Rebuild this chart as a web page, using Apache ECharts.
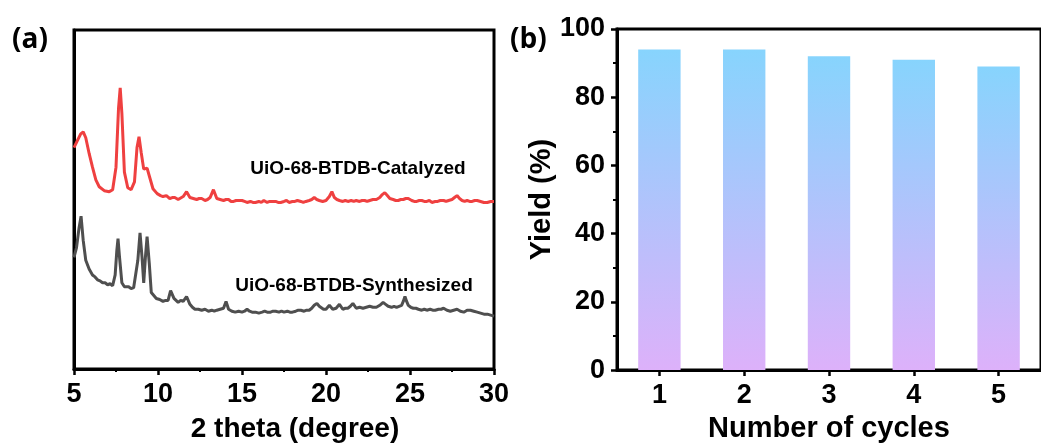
<!DOCTYPE html>
<html>
<head>
<meta charset="utf-8">
<script src="https://cdn.jsdelivr.net/npm/echarts@6/dist/echarts.min.js"></script>
<style>html,body{margin:0;padding:0;background:#fff}#c{width:1041px;height:448px}</style>
</head>
<body>
<div id="c"></div>
<script>
// Panel (a): XRD patterns, [2theta, intensity (a.u.)]
const xrdCatalyzed = [
[5.0,226],[5.2,233],[5.4,240],[5.55,242],[5.7,236],[5.9,220],[6.1,206],[6.3,193],[6.5,186],[6.8,182],[7.1,181],[7.3,183],
[7.5,206],[7.65,266],[7.75,287],[7.85,261],[8.0,201],[8.2,185],[8.4,183],[8.6,191],[8.75,226],[8.87,237],[9.0,221],[9.15,204],
[9.35,205],[9.5,196],[9.7,184],[9.95,179],[10.15,177],[10.3,176],[10.5,177],[10.7,174],[10.85,175],[11.0,175],[11.2,173],[11.5,176],[11.7,181],[11.9,175],
[12.1,174],[12.3,173],[12.45,174],[12.6,174],[12.8,172],[12.95,173],[13.1,175],[13.3,183],[13.5,174],[13.7,173],[13.9,172],[14.05,173],[14.2,173],[14.35,171],[14.5,171],[14.65,172],[14.8,172],
[15.0,172],[15.15,171],[15.3,170],[15.5,171],[15.65,170],[15.8,170],[16.0,171],[16.15,170],[16.3,172],[16.5,170],[16.65,171],[16.8,171],[17.0,171],[17.15,170],[17.3,170],[17.5,171],[17.65,172],[17.8,170],
[18.0,171],[18.15,171],[18.3,172],[18.5,171],[18.65,170],[18.8,171],[19.0,172],[19.15,173],[19.3,175],[19.45,173],[19.6,172],[19.8,171],[20.0,172],[20.2,176],[20.35,181],[20.5,175],
[20.65,173],[20.8,172],[21.0,171],[21.15,172],[21.3,171],[21.5,172],[21.65,171],[21.8,172],[22.0,171],[22.15,172],[22.3,172],[22.45,171],[22.6,172],[22.8,173],[23.0,173],[23.2,175],[23.35,178],[23.5,180],
[23.65,177],[23.8,174],[24.0,173],[24.15,172],[24.3,172],[24.45,173],[24.6,173],[24.75,174],[24.9,174],[25.1,172],[25.25,171],[25.4,171],[25.55,172],[25.7,172],[25.85,171],[26.0,171],[26.15,172],[26.3,170],[26.5,171],[26.65,171],[26.8,172],
[27.0,172],[27.15,171],[27.3,172],[27.5,173],[27.65,175],[27.8,177],[27.95,174],[28.1,172],[28.25,171],[28.4,172],[28.55,171],[28.7,171],[28.85,172],[29.0,172],[29.2,171],[29.4,170],[29.6,170],[29.8,171],[30.0,171]
];
const xrdSynthesized = [
[5.0,114],[5.15,124],[5.3,144],[5.42,156],[5.55,131],[5.7,111],[5.9,102],[6.1,96],[6.25,94],[6.4,91],[6.55,90],[6.7,88],[6.85,88],[7.0,86],[7.15,87],[7.3,85],
[7.45,96],[7.55,121],[7.62,133],[7.7,116],[7.85,88],[8.0,84],[8.1,83],[8.25,84],[8.4,82],[8.55,83],[8.65,84],[8.8,111],[8.93,139],[9.05,114],[9.15,88],
[9.25,114],[9.35,135],[9.48,108],[9.6,78],[9.75,75],[9.9,72],[10.1,71],[10.3,69],[10.45,70],[10.6,70],[10.75,80],[10.83,82],[10.95,72],[11.05,70],[11.2,68],[11.35,70],[11.5,69],
[11.7,74],[11.9,66],[12.05,63],[12.2,61],[12.4,61],[12.6,60],[12.8,61],[13.0,59],[13.2,60],[13.35,59],[13.5,60],[13.7,61],[13.9,62],[14.05,69],[14.2,61],[14.4,59],[14.6,58],[14.8,59],[15.0,58],[15.15,59],[15.3,61],
[15.45,59],[15.6,58],[15.8,58],[16.0,57],[16.2,58],[16.35,59],[16.5,58],[16.7,58],[16.85,59],[17.0,59],[17.2,58],[17.35,59],[17.5,58],[17.7,59],[17.85,58],[18.0,58],[18.2,59],[18.35,60],[18.5,60],[18.7,59],[18.85,60],[19.0,60],[19.15,62],[19.3,65],[19.46,67],[19.6,64],[19.7,62],[19.85,61],[20.0,61],
[20.2,65],[20.4,61],[20.6,62],[20.8,66],[21.0,61],[21.15,62],[21.3,62],[21.45,64],[21.6,67],[21.8,62],[22.0,63],[22.2,62],[22.4,63],[22.6,64],[22.8,63],[23.0,63],[23.2,65],[23.4,68],
[23.55,66],[23.7,64],[23.9,63],[24.05,64],[24.2,63],[24.35,64],[24.5,65],[24.6,69],[24.7,74],[24.8,69],[24.9,65],[25.05,63],[25.2,62],[25.35,62],[25.5,61],[25.7,60],[25.85,61],[26.0,60],[26.2,61],[26.35,60],[26.5,60],[26.7,61],[26.85,61],[27.0,62],[27.2,60],[27.4,59],[27.6,60],[27.8,61],
[28.0,59],[28.2,58],[28.4,60],[28.6,60],[28.8,59],[29.0,58],[29.2,57],[29.4,56],[29.6,56],[29.8,55],[30.0,54]
];
const xTicksA = [5, 10, 15, 20, 25, 30];

// Panel (b): recycling yields
const cycles = ['1', '2', '3', '4', '5'];
const yields = [94, 94, 92, 91, 89];

const FONT = '"Liberation Sans", Arial, Helvetica, sans-serif';
const axisLineStyle = { color: '#000', width: 3 };

const chart = echarts.init(document.getElementById('c'), null, { renderer: 'canvas' });
chart.setOption({
  animation: false,
  backgroundColor: '#fff',
  grid: [
    { left: 74, right: 547, top: 30, bottom: 72, show: true, borderColor: '#000', borderWidth: 3, backgroundColor: 'transparent' },
    { left: 617, right: -10, top: 29, bottom: 70, show: true, borderColor: '#000', borderWidth: 3, backgroundColor: 'transparent' }
  ],
  xAxis: [
    {
      gridIndex: 0, type: 'value', min: xTicksA[0], max: xTicksA[xTicksA.length - 1], interval: 5,
      name: '2 theta (degree)', nameLocation: 'middle', nameGap: 60,
      nameTextStyle: { fontFamily: FONT, fontWeight: 'bold', fontSize: 28, color: '#000', verticalAlign: 'middle', padding: [0, 0, 0, 22] },
      axisLine: { onZero: false, lineStyle: axisLineStyle },
      axisTick: { show: true, inside: false, length: 6, lineStyle: { width: 2.5, color: '#000' } },
      minorTick: { show: true, splitNumber: 2, length: 3, lineStyle: { width: 2, color: '#000' } },
      axisLabel: { fontFamily: FONT, fontWeight: 'bold', fontSize: 27, color: '#000', margin: 12 },
      splitLine: { show: false }
    },
    {
      gridIndex: 1, type: 'category', data: cycles, boundaryGap: true,
      name: 'Number of cycles', nameLocation: 'middle', nameGap: 58,
      nameTextStyle: { fontFamily: FONT, fontWeight: 'bold', fontSize: 29, color: '#000', verticalAlign: 'middle' },
      axisLine: { lineStyle: axisLineStyle },
      axisTick: { show: true, alignWithLabel: true, length: 6, lineStyle: { width: 2.5, color: '#000' } },
      axisLabel: { fontFamily: FONT, fontWeight: 'bold', fontSize: 27, color: '#000', margin: 12 },
      splitLine: { show: false }
    }
  ],
  yAxis: [
    {
      gridIndex: 0, type: 'value', min: 0, max: 346,
      axisLine: { show: true, lineStyle: axisLineStyle },
      axisTick: { show: false }, axisLabel: { show: false }, splitLine: { show: false }
    },
    {
      gridIndex: 1, type: 'value', min: 0, max: 100, interval: 20,
      name: 'Yield (%)', nameLocation: 'middle', nameGap: 74, nameRotate: 90,
      nameTextStyle: { fontFamily: FONT, fontWeight: 'bold', fontSize: 29, color: '#000', verticalAlign: 'middle' },
      axisLine: { show: true, lineStyle: axisLineStyle },
      axisTick: { show: true, length: 6, lineStyle: { width: 2.5, color: '#000' } },
      minorTick: { show: true, splitNumber: 2, length: 4, lineStyle: { width: 2, color: '#000' } },
      axisLabel: { fontFamily: FONT, fontWeight: 'bold', fontSize: 27, color: '#000', margin: 12 },
      splitLine: { show: false }
    }
  ],
  series: [
    {
      name: 'UiO-68-BTDB-Catalyzed', type: 'line', xAxisIndex: 0, yAxisIndex: 0,
      data: xrdCatalyzed, showSymbol: false, symbol: 'none',
      lineStyle: { color: '#ef4040', width: 3 }
    },
    {
      name: 'UiO-68-BTDB-Synthesized', type: 'line', xAxisIndex: 0, yAxisIndex: 0,
      data: xrdSynthesized, showSymbol: false, symbol: 'none',
      lineStyle: { color: '#4f4f4f', width: 3 }
    },
    {
      name: 'Yield', type: 'bar', xAxisIndex: 1, yAxisIndex: 1,
      data: yields, barWidth: '50%',
      itemStyle: {
        color: new echarts.graphic.LinearGradient(0, 0, 0, 1, [
          { offset: 0, color: '#87d4fd' },
          { offset: 1, color: '#ddb1fa' }
        ])
      }
    }
  ],
  graphic: [
    { type: 'text', left: 12, top: 26, style: { text: '(a)', font: 'bold 28px "Open Sans", sans-serif', fill: '#000' } },
    { type: 'text', left: 510, top: 26, style: { text: '(b)', font: 'bold 28px "Open Sans", sans-serif', fill: '#000' } },
    { type: 'text', x: 358, y: 169, style: { text: 'UiO-68-BTDB-Catalyzed', font: 'bold 19px "Liberation Sans", Arial, sans-serif', fill: '#000', align: 'center', verticalAlign: 'middle' } },
    { type: 'text', x: 354, y: 286, style: { text: 'UiO-68-BTDB-Synthesized', font: 'bold 19px "Liberation Sans", Arial, sans-serif', fill: '#000', align: 'center', verticalAlign: 'middle' } }
  ]
});
</script>
</body>
</html>
